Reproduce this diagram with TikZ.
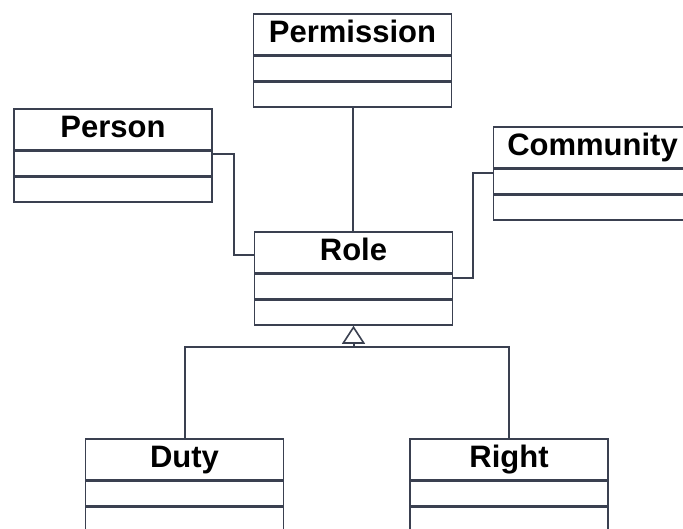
\documentclass[tikz,border=0pt]{standalone}
\usepackage{fontspec}
\setmainfont{Liberation Sans}
\usetikzlibrary{calc,arrows.meta}
\definecolor{umlline}{RGB}{58,64,80}
\begin{document}
\begin{tikzpicture}[x=1pt,y=-1pt,
  box/.style={draw=umlline, line width=1.6pt, fill=white, minimum width=198pt, inner sep=0pt, anchor=north},
  hdr/.style={box, minimum height=41pt, text height=23pt, text depth=6pt, font=\fontsize{31}{35}\selectfont\bfseries},
  cmp/.style={box, minimum height=24.5pt},
  conn/.style={draw=umlline, line width=2pt}]
\useasboundingbox (0,0) rectangle (683,528);
\clip (0,0) rectangle (683,528);
\fill[white] (0,0) rectangle (683,528);
% classes
\node[hdr] (perm-h) at (352.5,13) {Permission};
\node[cmp] (perm-a) at (perm-h.south) {};
\node[cmp] (perm-o) at (perm-a.south) {};
\node[hdr] (pers-h) at (113,108) {Person};
\node[cmp] (pers-a) at (pers-h.south) {};
\node[cmp] (pers-o) at (pers-a.south) {};
\node[hdr] (comm-h) at (592.5,126) {Community};
\node[cmp] (comm-a) at (comm-h.south) {};
\node[cmp] (comm-o) at (comm-a.south) {};
\node[hdr] (role-h) at (353.5,231) {Role};
\node[cmp] (role-a) at (role-h.south) {};
\node[cmp] (role-o) at (role-a.south) {};
\node[hdr] (duty-h) at (184.5,438) {Duty};
\node[cmp] (duty-a) at (duty-h.south) {};
\node[cmp] (duty-o) at (duty-a.south) {};
\node[hdr] (right-h) at (509,438) {Right};
\node[cmp] (right-a) at (right-h.south) {};
\node[cmp] (right-o) at (right-a.south) {};
% associations
\draw[conn] (perm-o.south) -- (perm-o.south |- role-h.north);
\coordinate (p1) at ($(pers-a.north east)+(0,3)$);
\coordinate (r1) at ($(role-h.west)+(0,3)$);
\draw[conn] (p1) -- ++(21,0) |- (r1);
\coordinate (c1) at ($(comm-a.north west)+(0,4)$);
\coordinate (r2) at ($(role-a.north east)+(0,4)$);
\draw[conn] (c1) -- ++(-20,0) |- (r2);
% generalization
\coordinate (jn) at ($(role-o.south)+(0,21)$);
\draw[conn] (duty-h.north) |- (jn) -| (right-h.north);
\draw[conn, -{Triangle[open, length=18pt, width=23pt, line width=1.6pt]}] (jn) -- (role-o.south);
\end{tikzpicture}
\end{document}
